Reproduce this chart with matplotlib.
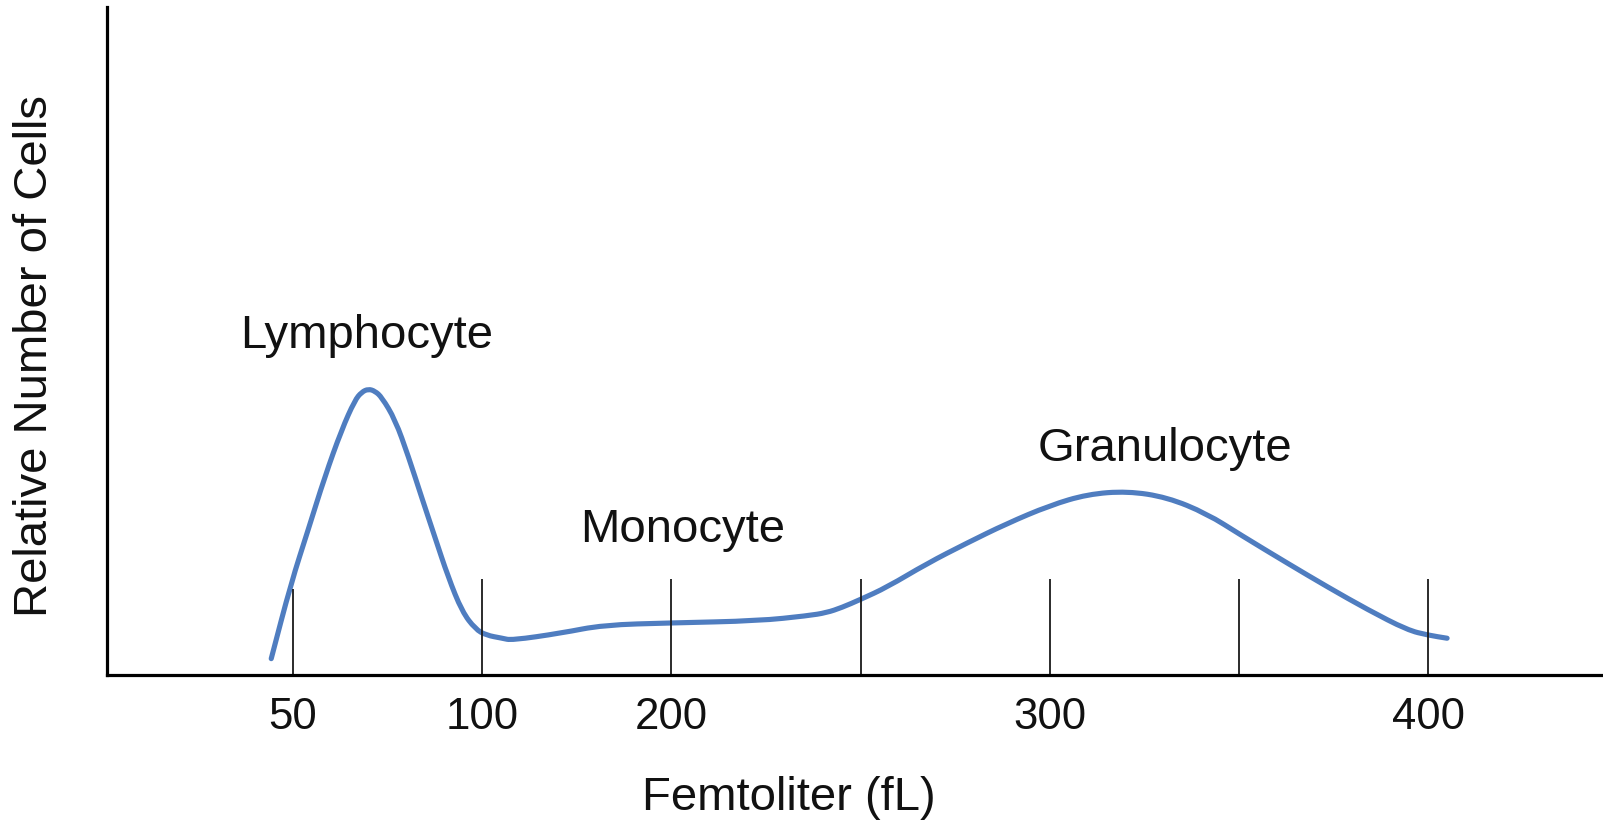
'''WBC volume histogram: lymphocyte / monocyte / granulocyte'''

import matplotlib
matplotlib.use('Agg')
import matplotlib.pyplot as plt
from matplotlib.path import Path
from matplotlib.patches import PathPatch

plt.rcParams['font.family'] = ['Liberation Sans', 'DejaVu Sans']

# divider lines sit on evenly spaced slots, only some of them are labelled
SLOTS = [0, 1, 2, 3, 4, 5, 6]
DIVIDER_HEIGHTS = [0.84, 0.94, 0.94, 0.94, 0.94, 0.94, 0.94]
TICK_SLOTS = [0, 1, 2, 4, 6]
TICK_LABELS = ['50', '100', '200', '300', '400']

# curve (x in slot units, y relative cell count)
curve_x = [-0.115, -0.01, 0.08, 0.168, 0.257, 0.327, 0.363, 0.398, 0.433,
           0.469, 0.54, 0.61, 0.68, 0.75, 0.82, 0.894, 0.964, 1.02,
           1.106, 1.156, 1.417, 1.64, 2.0, 2.46, 2.72, 2.82, 2.90,
           3.0, 3.14, 3.35, 3.56, 3.77, 4.0, 4.20, 4.41, 4.62,
           4.83, 5.01, 5.26, 5.47, 5.68, 5.89, 6.0, 6.10]
curve_y = [0.16, 0.90, 1.42, 1.94, 2.40, 2.69, 2.77, 2.80, 2.78,
           2.72, 2.50, 2.14, 1.74, 1.35, 0.96, 0.62, 0.45, 0.39,
           0.36, 0.34, 0.41, 0.49, 0.51, 0.53, 0.58, 0.61, 0.66,
           0.74, 0.86, 1.09, 1.29, 1.48, 1.66, 1.77, 1.80, 1.74,
           1.58, 1.37, 1.09, 0.86, 0.64, 0.44, 0.39, 0.36]

# cell population labels
pop_names = ['Lymphocyte', 'Monocyte', 'Granulocyte']
pop_x = [0.39, 2.06, 4.61]
pop_y = [3.20, 1.30, 2.10]


def smooth_path(xs, ys):
    '''quadratic bezier through the midpoints, like a smoothed office line'''
    pts = list(zip(xs, ys))
    verts = [pts[0], ((pts[0][0] + pts[1][0]) / 2, (pts[0][1] + pts[1][1]) / 2)]
    codes = [Path.MOVETO, Path.LINETO]
    for i in range(1, len(pts) - 1):
        mid = ((pts[i][0] + pts[i + 1][0]) / 2, (pts[i][1] + pts[i + 1][1]) / 2)
        verts += [pts[i], mid]
        codes += [Path.CURVE3, Path.CURVE3]
    verts.append(pts[-1])
    codes.append(Path.LINETO)
    return Path(verts, codes)


def main():
    '''draw and save'''
    fig = plt.figure(figsize=(16.03, 8.27), dpi=100)
    ax = fig.add_axes([107 / 1603, 152 / 827, 1 - 107 / 1603, 668 / 827])
    ax.set_xlim(-0.983, 6.924)
    ax.set_ylim(0, 6.54)

    for side in ['top', 'right']:
        ax.spines[side].set_visible(False)
    for side in ['left', 'bottom']:
        ax.spines[side].set_linewidth(2.3)
        ax.spines[side].set_color('black')

    # divider lines
    ax.vlines(SLOTS, 0, DIVIDER_HEIGHTS, color='#1a1a1a', linewidth=1.3)

    # histogram curve
    ax.add_patch(PathPatch(smooth_path(curve_x, curve_y), fill=False,
                           edgecolor='#4F7DC0', linewidth=3.7,
                           capstyle='round', joinstyle='round'))

    for name, px, py in zip(pop_names, pop_x, pop_y):
        ax.text(px, py, name, ha='center', va='baseline', fontsize=34,
                color='#111111')

    ax.set_yticks([])
    ax.set_xticks(TICK_SLOTS)
    ax.set_xticklabels(TICK_LABELS, fontsize=31.5, color='#111111')
    ax.tick_params(axis='x', length=0, pad=16)

    fig.text(789 / 1603, 1 - 810 / 827, 'Femtoliter (fL)', ha='center',
             va='baseline', fontsize=34, color='#111111')
    fig.text(35 / 1603, 1 - 356 / 827, 'Relative Number of Cells',
             rotation=90, ha='center', va='center', fontsize=34,
             color='#111111')

    fig.savefig('out.png', dpi=100, facecolor='white')


if __name__ == '__main__':
    main()
